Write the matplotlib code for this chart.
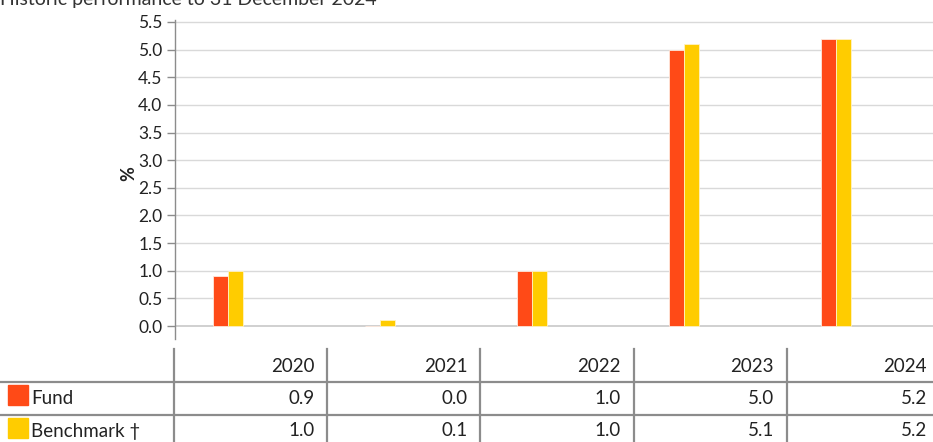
import matplotlib
matplotlib.use("Agg")
import matplotlib.pyplot as plt
import matplotlib.patches as patches
from matplotlib.lines import Line2D

years = ["2020", "2021", "2022", "2023", "2024"]
fund = [0.9, 0.0, 1.0, 5.0, 5.2]
benchmark = [1.0, 0.1, 1.0, 5.1, 5.2]
series_names = ["Fund", "Benchmark \u2020"]
yticks = [0.0, 0.5, 1.0, 1.5, 2.0, 2.5, 3.0, 3.5, 4.0, 4.5, 5.0, 5.5]
title = "Historic performance to 31 December 2024"

FUND_COL = "#FF4A17"
BENCH_COL = "#FFCC00"
GRID_COL = "#d9d9d9"
LINE_COL = "#8c8c8c"
TXT_COL = "#222222"

plt.rcParams['font.family'] = ['Lato', 'DejaVu Sans']

W, H = 933, 442
fig = plt.figure(figsize=(W / 100, H / 100), dpi=100)

def px(x0, y0, x1, y1):
    # pixel box (top-left origin) -> figure fraction rect
    return [x0 / W, 1 - y1 / H, (x1 - x0) / W, (y1 - y0) / H]

# --- chart ---
ax = fig.add_axes(px(175, 20, 933, 339))
xs = list(range(len(years)))
bw = 0.099
ax.bar([x - bw / 2 for x in xs], fund, width=bw, color=FUND_COL,
       edgecolor="#ffe9dd", linewidth=0.6, zorder=3)
ax.bar([x + bw / 2 for x in xs], benchmark, width=bw, color=BENCH_COL,
       edgecolor="#fff3c4", linewidth=0.6, zorder=3)
ax.set_xlim(-0.349, 4.638)
ax.set_ylim(-0.235, 5.536)
ax.set_yticks(yticks)
ax.set_yticklabels([f"{v:.1f}" for v in yticks])
ax.set_xticks([])
ax.tick_params(axis='y', length=6, width=1, color=LINE_COL, labelsize=12.5,
               labelcolor=TXT_COL, pad=3)
for s in ["top", "right", "bottom"]:
    ax.spines[s].set_visible(False)
ax.spines["left"].set_color(LINE_COL)
ax.spines["left"].set_linewidth(1)
for v in yticks:
    ax.axhline(v, color="#c8c8c8" if v == 0 else GRID_COL, lw=1.2 if v == 0 else 1,
               zorder=1)
ax.set_ylabel("%", fontsize=13, fontweight="bold", color=TXT_COL, labelpad=1)
ax.yaxis.set_label_coords(-0.05, 0.52)

fig.text(0.0, 1 - 5 / H, title, fontsize=14, color="#333333", va="baseline", ha="left")

# --- data table under the chart ---
tab = fig.add_axes([0, 0, 1, (H - 345) / H])
tab.set_xlim(0, W)
tab.set_ylim(H, 345)
tab.axis("off")
col_left = 174
col_w = 153.2
row_y = [366, 398, 431]
for i in range(len(years)):
    xl = col_left + i * col_w
    tab.add_line(Line2D([xl, xl], [349, H], color=LINE_COL, lw=1.6))
    tab.text(xl + col_w - 13, row_y[0], years[i], fontsize=13.5, color=TXT_COL,
             ha="right", va="center")
    tab.text(xl + col_w - 13, row_y[1], f"{fund[i]:.1f}", fontsize=13.5, color=TXT_COL,
             ha="right", va="center")
    tab.text(xl + col_w - 13, row_y[2], f"{benchmark[i]:.1f}", fontsize=13.5, color=TXT_COL,
             ha="right", va="center")
for yl in [381.5, 414.5]:
    tab.add_line(Line2D([0, W], [yl, yl], color=LINE_COL, lw=1.6))
for name, col, y in zip(series_names, [FUND_COL, BENCH_COL], row_y[1:]):
    tab.add_patch(patches.Rectangle((8, y - 13), 19.5, 20, color=col))
    tab.text(31, y, name, fontsize=13.5, color=TXT_COL, ha="left", va="center")

fig.savefig("out.png", dpi=100)
plt.close()
